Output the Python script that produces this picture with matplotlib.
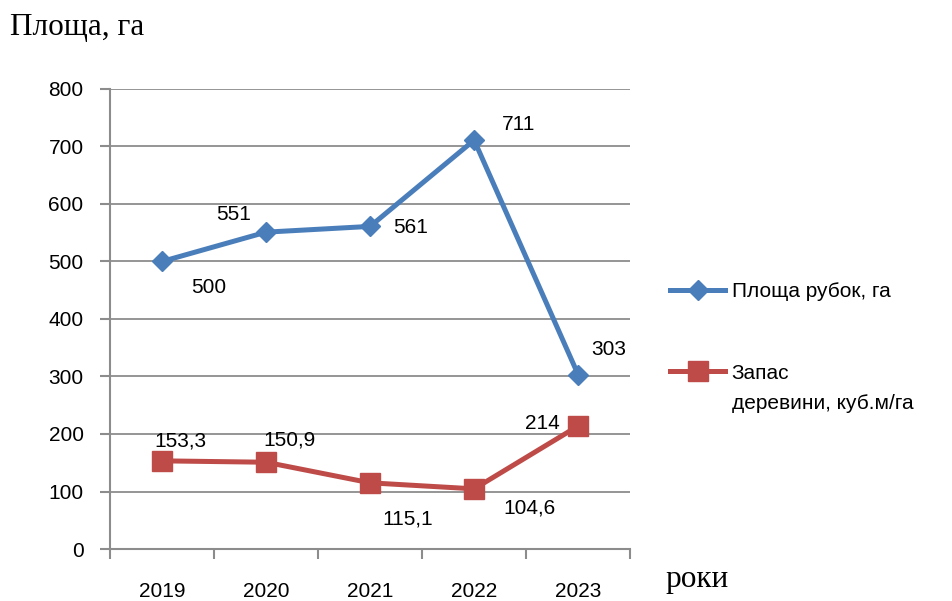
import matplotlib
matplotlib.use("Agg")
import matplotlib.pyplot as plt
import numpy as np

years = ["2019", "2020", "2021", "2022", "2023"]
area = [500, 551, 561, 711, 303]
stock = [153.3, 150.9, 115.1, 104.6, 214]
area_labels = ["500", "551", "561", "711", "303"]
stock_labels = ["153,3", "150,9", "115,1", "104,6", "214"]

# label offsets in points (dx, dy)
area_off = [(34, -19), (-23, 13), (29, -1), (32, 11), (22, 18)]
stock_off = [(13, 14), (17, 16), (27, -26), (40, -14), (-26, 2)]

blue = "#4A7EBB"
red = "#BE4B48"
grey = "#8C8C8C"
font = "Liberation Sans"

fig = plt.figure(figsize=(9.52, 6.01), dpi=100)
ax = fig.add_axes([0.1155, 0.0865, 0.5465, 0.7655])

x = np.arange(len(years))
ax.plot(x, area, color=blue, lw=3.6, marker="D", ms=10, label="Площа рубок, га")
ax.plot(x, stock, color=red, lw=3.6, marker="s", ms=14, label="Запас")

for xi, v, lab, off in zip(x, area, area_labels, area_off):
    ax.annotate(lab, xy=(xi, v), xytext=off, textcoords="offset points",
                ha="center", va="center", fontsize=15, family=font)
for xi, v, lab, off in zip(x, stock, stock_labels, stock_off):
    ax.annotate(lab, xy=(xi, v), xytext=off, textcoords="offset points",
                ha="center", va="center", fontsize=15, family=font)

ax.set_xlim(-0.5, 4.5)
ax.set_ylim(0, 800)
ax.set_yticks(range(0, 801, 100))
ax.set_xticks(x)
ax.set_xticklabels(years)
ax.set_xticks(np.arange(-0.5, 5, 1), minor=True)
ax.tick_params(axis="x", which="major", length=0, pad=24, labelsize=15)
ax.tick_params(axis="x", which="minor", length=7, color=grey, width=1.5)
ax.tick_params(axis="y", length=7, color=grey, width=1.5, labelsize=15, pad=12)
for lab in ax.get_xticklabels() + ax.get_yticklabels():
    lab.set_family(font)
ax.grid(axis="y", color=grey, lw=1.3)
ax.set_axisbelow(True)
for s in ["top", "right"]:
    ax.spines[s].set_visible(False)
for s in ["left", "bottom"]:
    ax.spines[s].set_color(grey)
    ax.spines[s].set_linewidth(1.5)

fig.text(0.011, 0.955, "Площа, га", fontsize=22.5, family="Liberation Serif", va="center")
fig.text(0.699, 0.035, "роки", fontsize=22.5, family="Liberation Serif", va="center")

leg = ax.legend(loc="upper left", bbox_to_anchor=(1.077, 0.58), frameon=False,
                prop={"family": font, "size": 15}, handlelength=2.65,
                handletextpad=0.3, labelspacing=3.0, borderaxespad=0, borderpad=0)
# second line of the red series label, placed under "Запас"
ax.annotate("деревини, куб.м/га", xy=(0, 0), xycoords=leg.get_texts()[1],
            xytext=(0, -8), textcoords="offset points", ha="left", va="top",
            fontsize=15, family=font, zorder=10, annotation_clip=False)

fig.savefig("out.png", dpi=100)
